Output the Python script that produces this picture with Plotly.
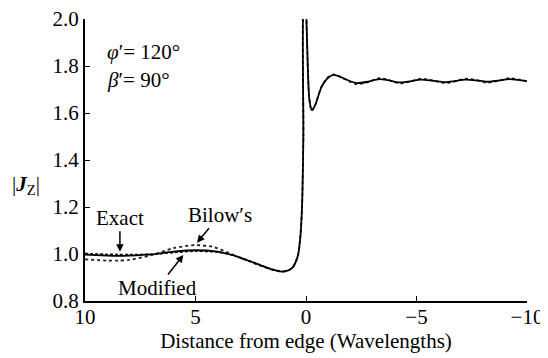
import plotly.graph_objects as go

# Distance from edge (wavelengths)
x_exact = [10, 9, 8.5, 8, 7, 6, 5, 4, 3.5, 3, 2.5, 2, 1.5, 1.1, 0.8, 0.6, 0.45, 0.35, 0.25,
           0.18, 0.12, 0.08, 0.02, -0.02, -0.08, -0.15, -0.26, -0.4, -0.7, -1.0, -1.25, -1.6,
           -2.0, -2.3, -2.8, -3.3, -3.7, -4.2, -4.7, -5.2, -5.7, -6.3, -6.7, -7.2, -7.7, -8.2,
           -8.7, -9.2, -9.6, -10]
y_exact = [0.997, 0.993, 0.992, 0.993, 0.998, 1.010, 1.016, 1.010, 1.000, 0.985, 0.968, 0.950,
           0.933, 0.925, 0.930, 0.943, 0.970, 1.000, 1.080, 1.200, 1.500, 2.100, 2.100, 2.000,
           1.800, 1.660, 1.612, 1.630, 1.710, 1.750, 1.762, 1.752, 1.735, 1.727, 1.733, 1.744,
           1.740, 1.730, 1.735, 1.742, 1.738, 1.731, 1.735, 1.742, 1.739, 1.733, 1.738, 1.744,
           1.741, 1.736]

x_bilow = [10, 9, 8.5, 8, 7, 6, 5, 4.2, 3.5, 3, 2.5, 2, 1.5, 1.1, 0.8, 0.6, 0.45, 0.35, 0.25,
           0.18, 0.12, 0.08, 0.02, -0.02, -0.08, -0.15, -0.26, -0.4, -0.7, -1.0, -1.25, -1.6,
           -2.0, -2.3, -2.8, -3.3, -3.7, -4.2, -4.7, -5.2, -5.7, -6.3, -6.7, -7.2, -7.7, -8.2,
           -8.7, -9.2, -9.6, -10]
y_bilow = [0.977, 0.972, 0.972, 0.975, 0.995, 1.025, 1.038, 1.030, 1.005, 0.985, 0.966, 0.948,
           0.932, 0.925, 0.930, 0.943, 0.970, 1.000, 1.080, 1.200, 1.500, 2.100, 2.100, 2.000,
           1.800, 1.660, 1.610, 1.630, 1.712, 1.752, 1.764, 1.752, 1.732, 1.723, 1.731, 1.748,
           1.742, 1.726, 1.733, 1.746, 1.739, 1.727, 1.734, 1.746, 1.740, 1.729, 1.737, 1.748,
           1.743, 1.734]

x_mod = [10, 9, 8.5, 8, 7, 6, 5, 4, 3.5, 3, 2.5, 2, 1.5, 1.1]
y_mod = [1.002, 0.999, 0.998, 0.998, 0.999, 1.006, 1.012, 1.008, 0.999, 0.986, 0.969, 0.951,
         0.934, 0.925]

x_ticks = [10, 5, 0, -5, -10]
x_tick_labels = ["10", "5", "0", "\u22125", "\u221210"]
y_ticks = [0.8, 1.0, 1.2, 1.4, 1.6, 1.8, 2.0]

FONT = "Liberation Serif, Times New Roman, DejaVu Serif, serif"
FS = 21

fig = go.Figure()
fig.add_trace(go.Scatter(x=x_bilow, y=y_bilow, mode="lines",
                         line=dict(color="#222", width=1.8, dash="dot", shape="spline", smoothing=0.7),
                         name="Bilow's", showlegend=False))
fig.add_trace(go.Scatter(x=x_mod, y=y_mod, mode="lines",
                         line=dict(color="#111", width=1.6, dash="3px,2px", shape="spline", smoothing=0.7),
                         name="Modified", showlegend=False))
fig.add_trace(go.Scatter(x=x_exact, y=y_exact, mode="lines",
                         line=dict(color="black", width=1.8, shape="spline", smoothing=0.7),
                         name="Exact", showlegend=False))

fig.update_xaxes(range=[10, -10], tickvals=x_ticks, ticktext=x_tick_labels, automargin=False,
                 ticks="inside", ticklen=5, tickcolor="black", tickwidth=1.2, ticklabelstandoff=-4,
                 ticklabeloverflow="allow",
                 showline=True, linecolor="black", linewidth=1.5, showgrid=False, zeroline=False,
                 title=dict(text="Distance from edge (Wavelengths)", font=dict(size=FS, family=FONT, color="black"), standoff=0),
                 tickfont=dict(size=FS, family=FONT, color="black"))
fig.update_yaxes(range=[0.8, 2.0], tickvals=y_ticks, tickformat=".1f", automargin=False,
                 ticks="inside", ticklen=5, tickcolor="black", tickwidth=1.2,
                 ticklabeloverflow="allow",
                 showline=True, linecolor="black", linewidth=2, showgrid=False, zeroline=False,
                 tickfont=dict(size=FS, family=FONT, color="black"))

anns = [
    dict(x=0.045, y=0.883, xref="paper", yref="paper", text="<i>\u03c6</i>\u2032= 120\u00b0",
         showarrow=False, xanchor="left", yanchor="middle", font=dict(size=FS, family=FONT, color="black")),
    dict(x=0.045, y=0.784, xref="paper", yref="paper", text="<i>\u03b2</i>\u2032= 90\u00b0",
         showarrow=False, xanchor="left", yanchor="middle", font=dict(size=FS, family=FONT, color="black")),
    dict(x=-0.133, y=0.41, xref="paper", yref="paper", text="|<b><i>J</i></b><sub>Z</sub>|",
         showarrow=False, xanchor="center", yanchor="middle", font=dict(size=FS, family=FONT, color="black")),
    dict(x=8.42, y=1.01, text="Exact", showarrow=True, ax=0, ay=-34, arrowhead=2, arrowsize=1,
         arrowwidth=1.5, arrowcolor="black", font=dict(size=FS, family=FONT, color="black")),
    dict(x=4.93, y=1.048, text="Bilow\u2032s", showarrow=True, ax=23, ay=-28, arrowhead=2, arrowsize=1,
         arrowwidth=1.5, arrowcolor="black", font=dict(size=FS, family=FONT, color="black")),
    dict(x=5.55, y=0.996, text="Modified", showarrow=True, ax=-26, ay=33, arrowhead=2, arrowsize=1,
         arrowwidth=1.5, arrowcolor="black", font=dict(size=FS, family=FONT, color="black")),
]
# the page body adds an 8px offset, so the figure is 8px smaller and left/top margins shifted
fig.update_layout(width=540, height=350, margin=dict(l=77, r=21, t=11, b=57),
                  paper_bgcolor="white", plot_bgcolor="white", annotations=anns,
                  font=dict(family=FONT, color="black"))
fig.write_html("out.html")
